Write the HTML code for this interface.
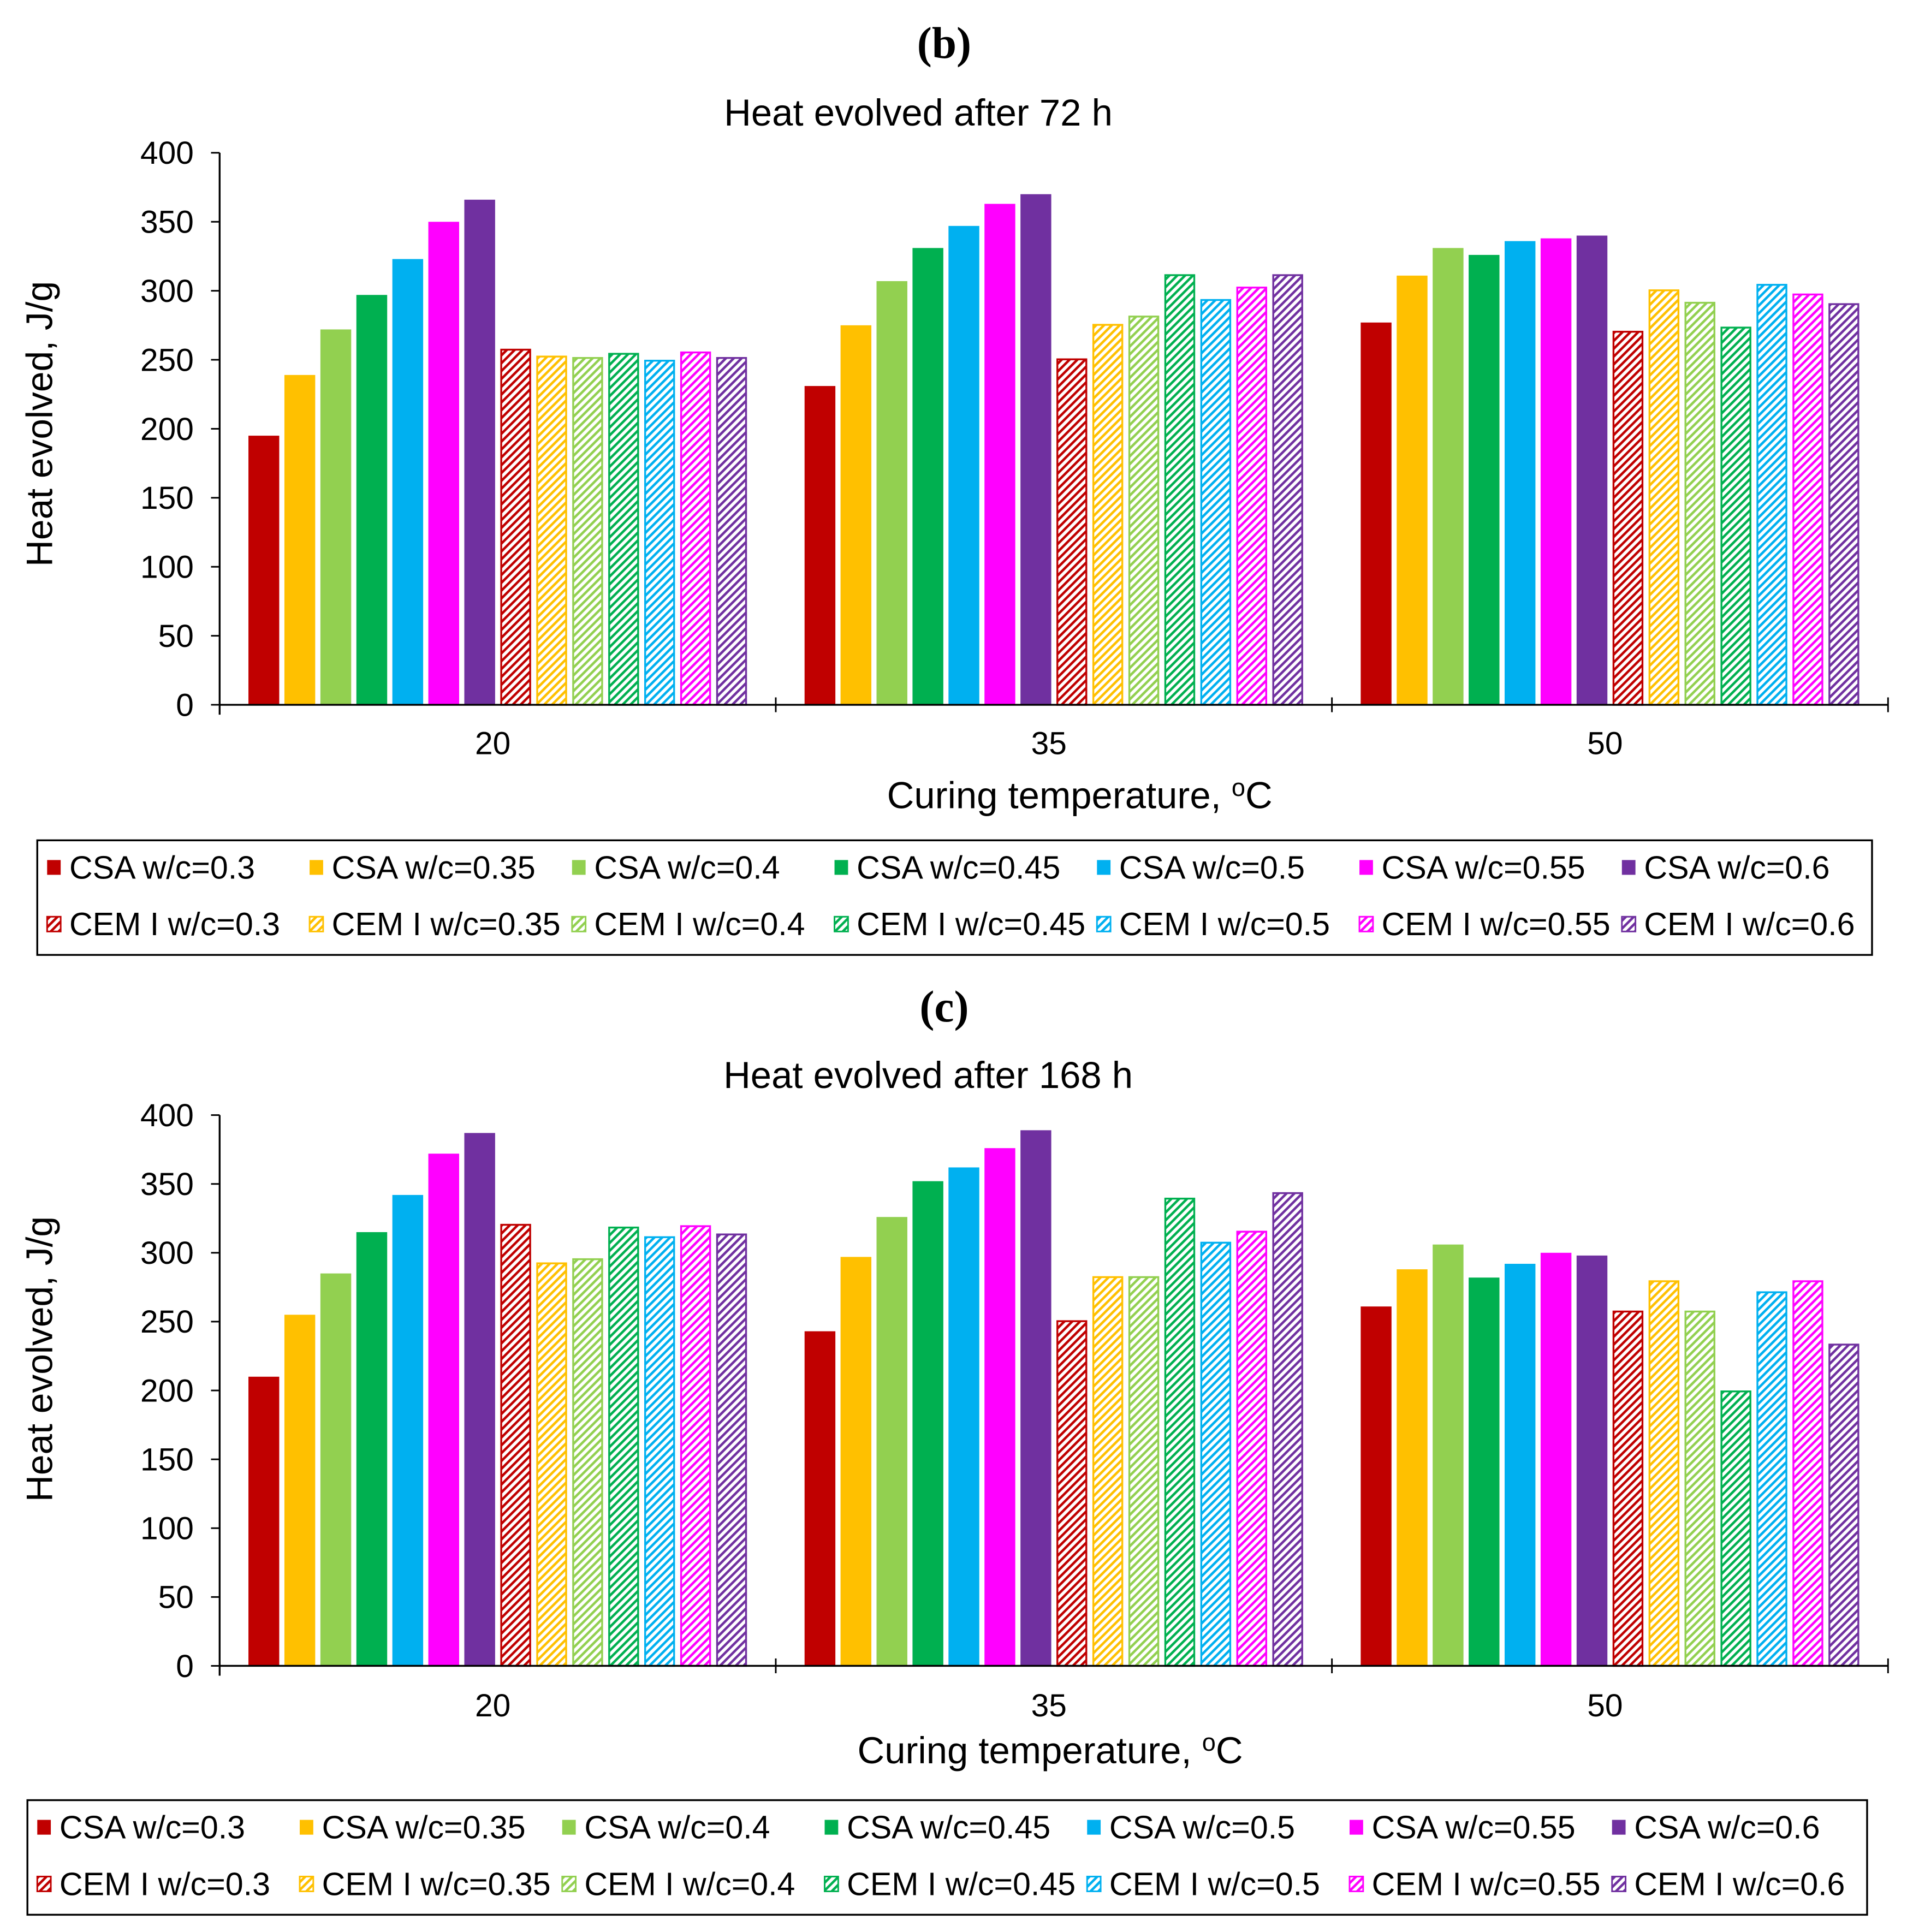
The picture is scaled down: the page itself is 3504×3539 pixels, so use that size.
<!DOCTYPE html>
<html><head><meta charset="utf-8"><style>
html,body{margin:0;padding:0;background:#fff}
svg{display:block}
text{font-family:"Liberation Sans",Arial,sans-serif;fill:#000}
</style></head><body>
<svg id="fig" width="3504" height="3539" viewBox="0 0 1552 1568" xmlns="http://www.w3.org/2000/svg">
<defs id="defs"></defs>
</svg>
<script>
const NS="http://www.w3.org/2000/svg";
const categories=["20","35","50"];
const seriesNames=["CSA w/c=0.3","CSA w/c=0.35","CSA w/c=0.4","CSA w/c=0.45","CSA w/c=0.5","CSA w/c=0.55","CSA w/c=0.6","CEM I w/c=0.3","CEM I w/c=0.35","CEM I w/c=0.4","CEM I w/c=0.45","CEM I w/c=0.5","CEM I w/c=0.55","CEM I w/c=0.6"];
const colors=["#C00000","#FFC000","#92D050","#00B050","#00B0F0","#FF00FF","#7030A0"];
const yTicks=[0,50,100,150,200,250,300,350,400];
// chart b (72 h): values per category, 14 series each
const b20=[195,239,272,297,323,350,366,258,253,252,255,250,256,252];
const b35=[231,275,307,331,347,363,370,251,276,282,312,294,303,312];
const b50=[277,311,331,326,336,338,340,271,301,292,274,305,298,291];
// chart c (168 h)
const c20=[210,255,285,315,342,372,387,321,293,296,319,312,320,314];
const c35=[243,297,326,352,362,376,389,251,283,283,340,308,316,344];
const c50=[261,288,306,282,292,300,298,258,280,258,200,272,280,234];

const svg=document.getElementById('fig');
const defs=document.getElementById('defs');
function el(tag,attrs,parent){const e=document.createElementNS(NS,tag);for(const k in attrs)e.setAttribute(k,attrs[k]);(parent||svg).appendChild(e);return e;}
colors.forEach((c,i)=>{
  const p=el('pattern',{id:'h'+i,patternUnits:'userSpaceOnUse',width:4.5,height:4.5,patternTransform:'rotate(45)'},defs);
  el('rect',{x:0,y:0,width:4.5,height:4.5,fill:'#fff'},p);
  el('rect',{x:0,y:0,width:2,height:4.5,fill:c},p);
});
function fillOf(s){return s<7?colors[s]:'url(#h'+(s-7)+')';}

function drawChart(cfg){
  const g=el('g',{});
  
  
  const x0=178,x1=1532,yb=cfg.y0,yt=cfg.y400;
  const yS=v=>yb-(v/400)*(yb-yt);
  const catW=(x1-x0)/categories.length;
  const pitch=29.2,bw=25;
  let t=el('text',{x:766,y:cfg.labY,'text-anchor':'middle','font-size':36,'font-weight':'bold',style:'font-family:"Liberation Serif",serif'},g);t.textContent=cfg.label;
  
  t=el('text',{x:cfg.titleX,y:cfg.titleY,'text-anchor':'middle','font-size':30.5},g);t.textContent=cfg.title;
  
  yTicks.forEach(v=>{
    const y=yS(v);
    const ln=el('line',{x1:171,x2:178,y1:y,y2:y,stroke:'#000','stroke-width':1.3},g);
    
    const tx=el('text',{x:157,y:y+9,'text-anchor':'end','font-size':26},g);tx.textContent=v;
    
  });
  const yt2=el('text',{x:0,y:0,'text-anchor':'middle','font-size':30,transform:`translate(42,${cfg.yTitleC}) rotate(-90)`},g);
  yt2.textContent='Heat evolved, J/g';
  
  cfg.data.forEach((vals,ci)=>{
    const cs=x0+ci*catW;
    const start=cs+(catW-14*pitch)/2+(pitch-bw)/2;
    vals.forEach((v,s)=>{
      const y=yS(v);
      const r=el('rect',{x:start+s*pitch,y:y,width:bw,height:yb-y,fill:fillOf(s)},g);
      if(s>=7){r.setAttribute('stroke',colors[s-7]);r.setAttribute('stroke-width',1.5);r.setAttribute('x',start+s*pitch+0.75);r.setAttribute('width',bw-1.5);r.setAttribute('y',y+0.75);r.setAttribute('height',yb-y-0.75);}
      
      
    });
    const lab=el('text',{x:cs+catW/2-4,y:cfg.xLabY,'text-anchor':'middle','font-size':26},g);lab.textContent=categories[ci];
    
  });
  let a=el('line',{x1:x0,x2:x0,y1:yt,y2:yb+8,stroke:'#000','stroke-width':1.5},g);
  
  a=el('line',{x1:x0,x2:x1,y1:yb,y2:yb,stroke:'#000','stroke-width':1.5},g);
  
  for(let i=1;i<=3;i++){const tk=el('line',{x1:x0+i*catW,x2:x0+i*catW,y1:yb-6,y2:yb+6,stroke:'#000','stroke-width':1.3},g);
    }
  const xt=el('text',{x:cfg.xTitleX,y:cfg.xTitleY,'text-anchor':'middle','font-size':30.5},g);
  xt.innerHTML='Curing temperature, <tspan dy="-10" font-size="20">o</tspan><tspan dy="10">C</tspan>';
  
  const lg=el('g',{},g);
  
  el('rect',{x:cfg.lx,y:cfg.ly,width:cfg.lw,height:93,fill:'#fff',stroke:'#000','stroke-width':1.5},lg);
  seriesNames.forEach((n,s)=>{
    const col=s%7,row=Math.floor(s/7);
    const mx=cfg.lx+7+col*213, my=cfg.ly+row*46;
    const e=el('g',{},lg);
    
    
    el('rect',{x:mx+1,y:my+16,width:11,height:12,fill:fillOf(s),stroke:s>=7?colors[s-7]:'none','stroke-width':1.3},e);
    const tx=el('text',{x:mx+19,y:my+31,'font-size':26.2},e);tx.textContent=n;
  });
}
drawChart({name:'chart-72h',label:'(b)',labY:47,title:'Heat evolved after 72 h',titleX:745,titleY:102,y0:572,y400:124,yTitleC:344,xLabY:612,xTitleX:876,xTitleY:656,lx:30,ly:682,lw:1489,data:[b20,b35,b50]});
drawChart({name:'chart-168h',label:'(c)',labY:829,title:'Heat evolved after 168 h',titleX:753,titleY:883,y0:1352,y400:905,yTitleC:1103,xLabY:1393,xTitleX:852,xTitleY:1431,lx:22,ly:1461,lw:1493,data:[c20,c35,c50]});
</script>
</body></html>
